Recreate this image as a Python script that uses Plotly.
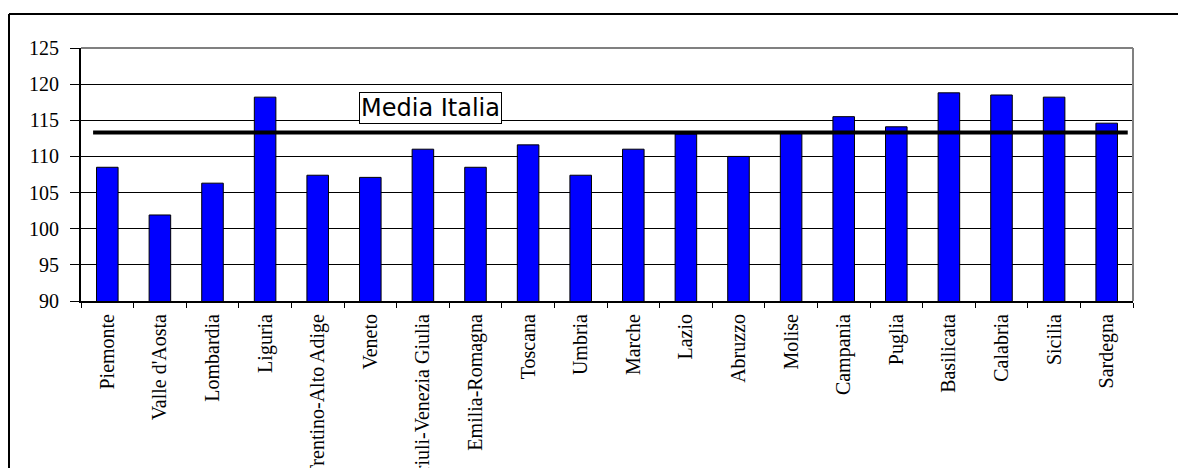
import plotly.graph_objects as go

regioni = ["Piemonte", "Valle d'Aosta", "Lombardia", "Liguria", "Trentino-Alto Adige",
           "Veneto", "Friuli-Venezia Giulia", "Emilia-Romagna", "Toscana", "Umbria",
           "Marche", "Lazio", "Abruzzo", "Molise", "Campania", "Puglia", "Basilicata",
           "Calabria", "Sicilia", "Sardegna"]
valori = [108.5, 101.9, 106.3, 118.2, 107.4, 107.1, 111.0, 108.5, 111.6, 107.4,
          111.0, 113.1, 110.0, 113.2, 115.5, 114.1, 118.8, 118.5, 118.2, 114.6]
media_italia = 113.3
etichetta_media = "Media Italia"
y_ticks = [90, 95, 100, 105, 110, 115, 120, 125]

OFF = 8  # default page body margin
W, H = 1186 - OFF, 468 - OFF
L, R, T, B = 81 - OFF, 1133 - OFF, 48 - OFF, 300.7 - OFF

fig = go.Figure()
fig.add_trace(go.Bar(
    x=regioni, y=valori,
    marker=dict(color="#0000FF", line=dict(color="black", width=1)),
    showlegend=False, hoverinfo="x+y",
))

def px_x(p):
    return (p - OFF - L) / (R - L)

def px_y(p):
    return (B - (p - OFF)) / (B - T)

shapes = [
    dict(type="line", xref="x", yref="y", x0=-0.27, x1=19.4, y0=media_italia, y1=media_italia,
         line=dict(color="black", width=4), layer="above"),
    dict(type="line", xref="paper", yref="paper", x0=0, x1=1, y0=1, y1=1,
         line=dict(color="#808080", width=2), layer="above"),
    dict(type="line", xref="paper", yref="paper", x0=1, x1=1, y0=0, y1=1,
         line=dict(color="#808080", width=2), layer="above"),
    dict(type="line", xref="paper", yref="paper", x0=px_x(9), x1=px_x(1200), y0=px_y(14), y1=px_y(14),
         line=dict(color="black", width=2), layer="above"),
    dict(type="line", xref="paper", yref="paper", x0=px_x(9), x1=px_x(9), y0=px_y(14), y1=px_y(480),
         line=dict(color="black", width=2), layer="above"),
]

fig.update_layout(
    width=W, height=H,
    margin=dict(l=L, r=W - R, t=T, b=H - B, pad=0, autoexpand=False),
    paper_bgcolor="white", plot_bgcolor="white",
    bargap=0.59,
    shapes=shapes,
    font=dict(family="Liberation Serif, Times New Roman, serif", size=20, color="black"),
    annotations=[dict(
        x=px_x(430), y=px_y(107.8), xref="paper", yref="paper",
        text=etichetta_media, showarrow=False,
        font=dict(family="DejaVu Sans, Arial, sans-serif", size=24, color="black"),
        bgcolor="white", bordercolor="black", borderwidth=1, borderpad=1,
        xanchor="center", yanchor="middle",
    )],
)
fig.update_xaxes(
    type="category", tickangle=-90, tickson="boundaries",
    ticks="outside", ticklen=5, tickcolor="black", tickwidth=1,
    showline=True, linecolor="black", linewidth=2,
    showgrid=False, range=[-0.5, len(regioni) - 0.5],
    ticklabelstandoff=3,
    tickfont=dict(family="Liberation Serif, Times New Roman, serif", size=20),
)
fig.update_yaxes(
    range=[90, 125], tickvals=y_ticks, ticktext=[str(v) for v in y_ticks],
    ticks="outside", ticklen=9, tickcolor="black", tickwidth=1,
    showline=True, linecolor="black", linewidth=2,
    showgrid=True, gridcolor="black", gridwidth=1, zeroline=False,
    ticklabelstandoff=7,
    tickfont=dict(family="Liberation Serif, Times New Roman, serif", size=20),
)

fig.write_html("out.html")
